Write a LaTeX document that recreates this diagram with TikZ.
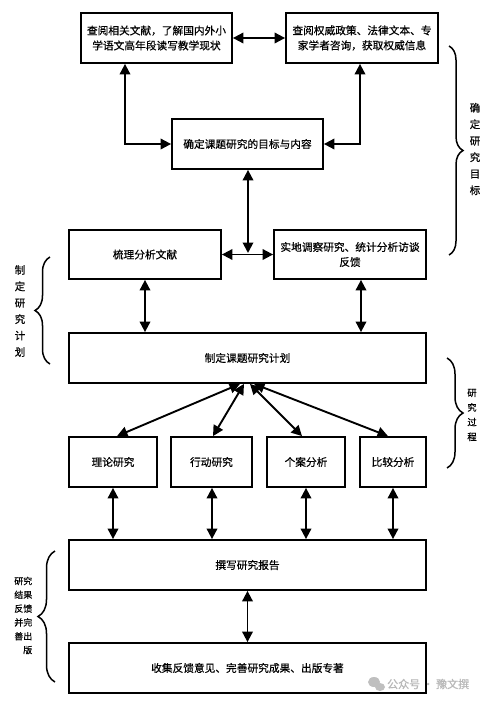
\documentclass[tikz,border=0pt]{standalone}
\usepackage{fontspec}
\setmainfont{Noto Sans CJK SC}[FakeBold=0.5]
\usetikzlibrary{arrows.meta,decorations.pathreplacing}
\begin{document}
\begin{tikzpicture}[x=1pt,y=-1pt,
  box/.style={draw,line width=1.8pt,inner sep=0pt,align=center,font=\fontsize{10.7}{15}\selectfont},
  conn/.style={line width=1.9pt,{Triangle[length=10.5pt,width=10.5pt]}-{Triangle[length=10.5pt,width=10.5pt]}},
  br/.style={decorate,decoration={brace,amplitude=#1},line width=1.5pt},
  lab/.style={align=center,inner sep=0pt},
  wm/.style={text=black!28,font=\fontsize{11}{13}\selectfont,inner sep=0pt}]
\useasboundingbox[fill=white] (0,0) rectangle (500,704);
% boxes
\node[box,minimum width=151pt,minimum height=50pt] (b1) at (156.5,38) {查阅相关文献，了解国内外小\\学语文高年段读写教学现状};
\node[box,minimum width=152pt,minimum height=50pt] (b2) at (362,38) {查阅权威政策、法律文本、专\\家学者咨询，获取权威信息};
\node[box,minimum width=151pt,minimum height=50pt] (goal) at (247.5,144) {确定课题研究的目标与内容};
\node[box,minimum width=152pt,minimum height=49pt] (lit) at (145,254.5) {梳理分析文献};
\node[box,minimum width=152pt,minimum height=49pt] (field) at (350,254.5) {实地调察研究、统计分析访谈\\反馈};
\node[box,minimum width=357pt,minimum height=50pt] (plan) at (247.5,358) {制定课题研究计划};
\node[box,minimum width=88pt,minimum height=50pt] (t1) at (113,462) {理论研究};
\node[box,minimum width=81pt,minimum height=50pt] (t2) at (211.5,462) {行动研究};
\node[box,minimum width=78pt,minimum height=50pt] (t3) at (306,462) {个案分析};
\node[box,minimum width=66pt,minimum height=50pt] (t4) at (393,462) {比较分析};
\node[box,minimum width=357pt,minimum height=50pt] (report) at (247.5,565) {撰写研究报告};
\node[box,minimum width=357pt,minimum height=50pt] (final) at (247.5,668) {收集反馈意见、完善研究成果、出版专著};
% connectors
\draw[conn] (b1) -- (b2);
\draw[conn] (b1.south -| 125,0) |- (goal.west);
\draw[conn] (b2.south -| 360,0) |- (goal.east);
\coordinate (mid) at (248,253);
\draw[conn] (lit) -- (field);
\draw[conn] (goal.south -| 248,0) -- (mid);
\draw[conn] (lit.south -| 145,0) -- (plan.north -| 145,0);
\draw[conn] (field.south -| 361,0) -- (plan.north -| 361,0);
\draw[conn] (plan.south -| 240,0) -- (t1.north -| 117,0);
\draw[conn] (plan.south -| 244,0) -- (t2.north -| 213,0);
\draw[conn] (plan.south -| 250,0) -- (t3.north -| 302,0);
\draw[conn] (plan.south -| 254,0) -- (t4.north -| 388,0);
\draw[conn] (t1.south -| 113,0) -- (report.north -| 113,0);
\draw[conn] (t2.south -| 212,0) -- (report.north -| 212,0);
\draw[conn] (t3.south -| 306,0) -- (report.north -| 306,0);
\draw[conn] (t4.south -| 393,0) -- (report.north -| 393,0);
\draw[conn] (report) -- (final);
% braces and labels
\draw[br=14pt] (449,46) -- (449,255);
\node[lab,font=\fontsize{10.5}{16.5}\selectfont] (l1) at (475,149) {确\\定\\研\\究\\目\\标};
\draw[br=15pt] (50,364) -- (50,257);
\node[lab,font=\fontsize{10.5}{16.4}\selectfont] (l2) at (20,311) {制\\定\\研\\究\\计\\划};
\draw[br=16pt] (447,358) -- (447,468);
\node[lab,font=\fontsize{9.3}{14.7}\selectfont] (l3) at (472,415) {研\\究\\过\\程};
\draw[br=17pt] (55,682) -- (55,551);
\node[lab,align=right,anchor=east,font=\fontsize{9}{13.8}\selectfont] (l4) at (32.5,615.5) {研究\\结果\\反馈\\并完\\善出\\版};
% watermark
\fill[black!25] (374,682) ellipse (6pt and 5pt);
\fill[black!25] (380,687) ellipse (5pt and 4pt);
\node[wm,anchor=west] (wmt) at (387,684) {公众号 · 豫文撰};
\end{tikzpicture}
\end{document}
